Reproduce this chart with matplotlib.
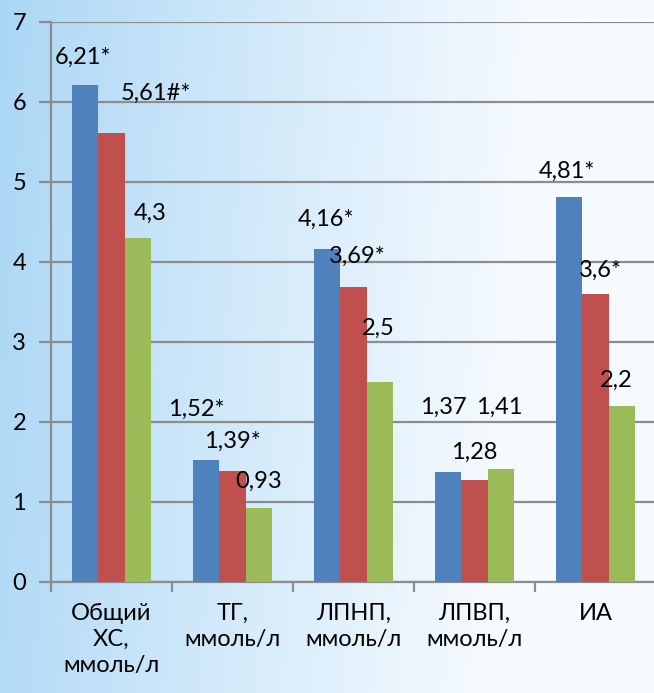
import numpy as np
import matplotlib.pyplot as plt
import matplotlib

matplotlib.rcParams['font.family'] = ['Lato', 'Noto Sans', 'DejaVu Sans']

# данные
categories = ['Общий\nХС,\nммоль/л', 'ТГ,\nммоль/л', 'ЛПНП,\nммоль/л', 'ЛПВП,\nммоль/л', 'ИА']
group1 = [6.21, 1.52, 4.16, 1.37, 4.81]
group2 = [5.61, 1.39, 3.69, 1.28, 3.6]
group3 = [4.3, 0.93, 2.5, 1.41, 2.2]
labels1 = ['6,21*', '1,52*', '4,16*', '1,37', '4,81*']
labels2 = ['5,61#*', '1,39*', '3,69*', '1,28', '3,6*']
labels3 = ['4,3', '0,93', '2,5', '1,41', '2,2']

colors = ['#4f81bd', '#c0504d', '#9bbb59']

# смещения подписей (в пикселях: dx, dy над вершиной столбца)
offs1 = [(-2, 28), (-10, 51), (-1, 30), (-5, 65), (-2, 26)]
offs2 = [(44, 40), (0, 29), (4, 30), (0, 27), (5, 24)]
offs3 = [(12, 25), (0, 26), (-2, 54), (-2, 62), (-6, 26)]

FS = 17

fig = plt.figure(figsize=(6.54, 6.93), dpi=100)

# фон-градиент
bg = fig.add_axes([0, 0, 1, 1], zorder=-10)
xx = np.linspace(0, 1, 300)
yy = np.linspace(0, 1, 300)
X, Y = np.meshgrid(xx, yy)
t = np.clip(X * 1.2 + 0.1 * Y, 0, 1) ** 0.9
left_c = np.array([170, 214, 245]) / 255
right_c = np.array([246, 251, 255]) / 255
img = left_c[None, None, :] * (1 - t[..., None]) + right_c[None, None, :] * t[..., None]
bg.imshow(img, aspect='auto', extent=[0, 1, 0, 1], origin='upper')
bg.axis('off')

ax = fig.add_axes([51 / 654, 111 / 693, 605 / 654, 560 / 693])
ax.patch.set_alpha(0)

x = np.arange(len(categories))
w = 0.22
for i, (vals, labs, offs) in enumerate(zip([group1, group2, group3],
                                           [labels1, labels2, labels3],
                                           [offs1, offs2, offs3])):
    pos = x + (i - 1) * w
    ax.bar(pos, vals, width=w, color=colors[i], zorder=3)
    for px, v, lab, (dx, dy) in zip(pos, vals, labs, offs):
        ax.annotate(lab, (px, v), xytext=(dx * 0.72, dy * 0.72), textcoords='offset points',
                    ha='center', va='center', fontsize=FS, color='black', zorder=5)

ax.set_xlim(-0.5, len(categories) - 0.5)
ax.set_ylim(0, 7)
ax.set_yticks(range(0, 8))
ax.yaxis.grid(True, color='#8c8c8c', linewidth=1.6, zorder=0)
ax.set_axisbelow(True)

for s in ['top', 'right']:
    ax.spines[s].set_visible(False)
ax.spines['left'].set_color('#8c8c8c')
ax.spines['left'].set_linewidth(1.6)
ax.spines['bottom'].set_color('#8c8c8c')
ax.spines['bottom'].set_linewidth(1.6)

ax.set_xticks(x)
ax.set_xticklabels(categories, fontsize=FS, linespacing=1.3)
ax.tick_params(axis='x', length=0, pad=15)
ax.set_xticks(np.arange(-0.5, len(categories)), minor=True)
ax.tick_params(axis='x', which='minor', length=7, width=1.6, color='#8c8c8c', direction='out')
ax.tick_params(axis='y', length=9, width=1.6, color='#8c8c8c', labelsize=FS, pad=9)

fig.savefig('out.png', dpi=100)
